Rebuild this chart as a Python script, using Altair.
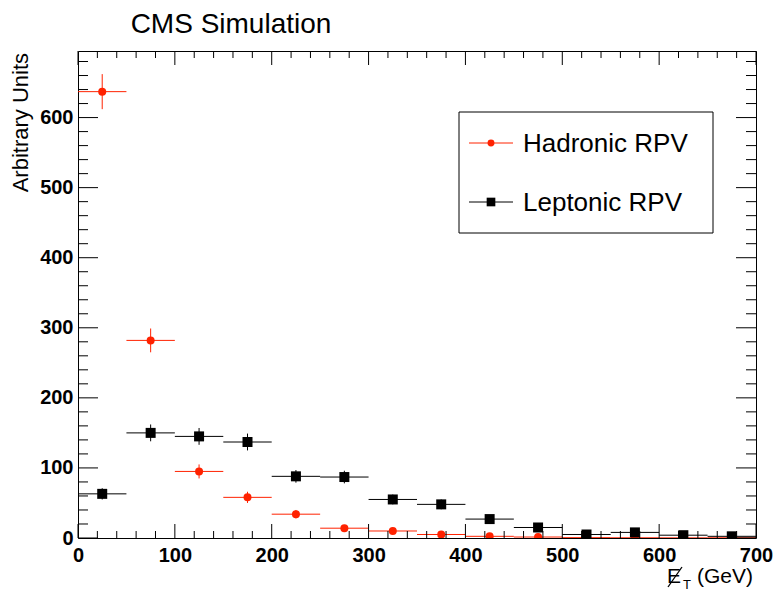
import altair as alt
import pandas as pd

# ---- data ----
bin_centers = [25, 75, 125, 175, 225, 275, 325, 375, 425, 475, 525, 575, 625, 675]
bin_half = 25
hadronic = [637, 282, 95, 58, 34, 14, 10, 5, 2.4, 1.4, 0.5, 0.3, 0.2, 0.3]
hadronic_err = [25, 17, 10, 8, 6, 4, 3, 2, 1.5, 1.2, 0.7, 0.5, 0.4, 0.5]
leptonic = [63, 150, 145, 137, 88, 87, 55, 48, 27, 15, 5, 8, 4, 2.4]
leptonic_err = [8, 12, 12, 12, 9, 9, 7, 7, 5, 4, 2.2, 3, 2, 1.5]
series_names = ["Hadronic RPV", "Leptonic RPV"]
series_colors = ["#ff2200", "#000000"]
series_shapes = ["circle", "square"]
series_sizes = [64, 100]

x_major = list(range(0, 701, 100))
x_minor = [v for v in range(0, 701, 20) if v % 100 != 0]
y_major = list(range(0, 601, 100))
y_minor = [v for v in range(0, 695, 20) if v % 100 != 0]

W, H = 678, 487
FONT = "Liberation Sans"

xs = alt.Scale(domain=[0, 700], nice=False, zero=False)
ys = alt.Scale(domain=[0, 695], nice=False, zero=True)

axis_common = dict(labelFont=FONT, labelFontWeight="bold", labelFontSize=20,
                   ticks=False, domain=False, grid=False, tickSize=0,
                   labelColor="black", labelFlush=False, labelOverlap=False)
XAX = alt.Axis(values=x_major, labelPadding=7, **axis_common)
YAX = alt.Axis(values=y_major, labelPadding=5, **axis_common)


def X(field):
    return alt.X(field, scale=xs, axis=XAX, title=None)


def Y(field):
    return alt.Y(field, scale=ys, axis=YAX, title=None)


def make_df(vals, errs, name):
    return pd.DataFrame({
        "x": bin_centers,
        "lo": [c - bin_half for c in bin_centers],
        "hi": [c + bin_half for c in bin_centers],
        "y": vals,
        "ylo": [v - e for v, e in zip(vals, errs)],
        "yhi": [v + e for v, e in zip(vals, errs)],
        "series": name,
    })


dfs = [make_df(hadronic, hadronic_err, series_names[0]),
       make_df(leptonic, leptonic_err, series_names[1])]

layers = []

for df, col, shp, sz in zip(dfs, series_colors, series_shapes, series_sizes):
    c = alt.Chart(df)
    hbar = c.mark_rule(color=col, strokeWidth=1, clip=True).encode(
        x=X("lo:Q"), x2="hi:Q", y=Y("y:Q"))
    vbar = c.mark_rule(color=col, strokeWidth=1, clip=True).encode(
        x=X("x:Q"), y=Y("ylo:Q"), y2="yhi:Q")
    pts = c.mark_point(shape=shp, size=sz, filled=True, color=col, opacity=1, clip=True).encode(
        x=X("x:Q"), y=Y("y:Q"))
    layers += [hbar, vbar, pts]


# inward ticks on all four sides
def xticks(vals, length):
    d = pd.DataFrame({"v": vals})
    bot = alt.Chart(d).mark_rule(color="black", strokeWidth=1).encode(
        x=X("v:Q"), y=alt.value(H), y2=alt.value(H - length))
    top = alt.Chart(d).mark_rule(color="black", strokeWidth=1).encode(
        x=X("v:Q"), y=alt.value(0), y2=alt.value(length))
    return [bot, top]


def yticks(vals, length):
    d = pd.DataFrame({"v": vals})
    left = alt.Chart(d).mark_rule(color="black", strokeWidth=1).encode(
        y=Y("v:Q"), x=alt.value(0), x2=alt.value(length))
    right = alt.Chart(d).mark_rule(color="black", strokeWidth=1).encode(
        y=Y("v:Q"), x=alt.value(W), x2=alt.value(W - length))
    return [left, right]


layers += xticks(x_major, 14) + xticks(x_minor, 7)
layers += yticks(y_major, 20) + yticks(y_minor, 10)

one = pd.DataFrame({"a": [0]})

# legend box
layers.append(alt.Chart(one).mark_rect(fill="white", stroke="black", strokeWidth=1).encode(
    x=alt.value(381), x2=alt.value(635), y=alt.value(61), y2=alt.value(182)))
for i, (name, col, shp, sz) in enumerate(zip(series_names, series_colors, series_shapes, series_sizes)):
    yy = 92 + i * 59
    d = pd.DataFrame({"name": [name]})
    layers.append(alt.Chart(d).mark_rule(color=col, strokeWidth=1).encode(
        x=alt.value(391), x2=alt.value(435), y=alt.value(yy)))
    layers.append(alt.Chart(d).mark_point(shape=shp, size=sz * 0.75, filled=True, color=col, opacity=1).encode(
        x=alt.value(413), y=alt.value(yy)))
    layers.append(alt.Chart(d).mark_text(align="left", baseline="middle", font=FONT, fontSize=26,
                                         color="black").encode(
        x=alt.value(445), y=alt.value(yy + 1), text="name:N"))

# titles
layers.append(alt.Chart(one).mark_text(align="center", baseline="alphabetic", font=FONT,
                                       fontSize=28, color="black", text="CMS Simulation").encode(
    x=alt.value(153), y=alt.value(-18)))
layers.append(alt.Chart(one).mark_text(align="right", baseline="middle", font=FONT, angle=270,
                                       fontSize=22, color="black", text="Arbitrary Units").encode(
    x=alt.value(-57), y=alt.value(2)))
# x title: slashed E_T (GeV)
layers.append(alt.Chart(one).mark_text(align="right", baseline="alphabetic", font=FONT,
                                       fontSize=21, color="black", text="(GeV)").encode(
    x=alt.value(675), y=alt.value(532)))
layers.append(alt.Chart(one).mark_text(align="left", baseline="alphabetic", font=FONT,
                                       fontSize=21, color="black", text="E").encode(
    x=alt.value(589), y=alt.value(532)))
layers.append(alt.Chart(one).mark_rule(color="black", strokeWidth=1.3).encode(
    x=alt.value(590), x2=alt.value(604), y=alt.value(536), y2=alt.value(516)))
layers.append(alt.Chart(one).mark_text(align="left", baseline="alphabetic", font=FONT,
                                       fontSize=13, color="black", text="T").encode(
    x=alt.value(605), y=alt.value(538)))

chart = alt.layer(*layers).properties(
    width=W, height=H,
    autosize=alt.AutoSizeParams(type="none"),
    padding={"left": 78, "top": 51, "right": 18, "bottom": 54},
    background="white",
).configure_view(stroke="black", strokeWidth=1)

chart.save("out.html", embed_options={"renderer": "svg", "actions": False})
